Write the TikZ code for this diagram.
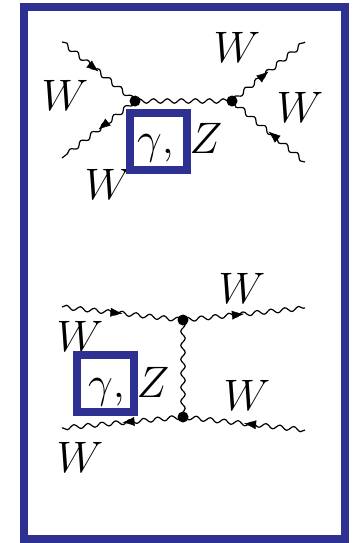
\documentclass[tikz,border=0pt]{standalone}
\usepackage{graphicx}
\usetikzlibrary{decorations.pathmorphing,decorations.markings,arrows.meta}
\definecolor{boxblue}{RGB}{46,49,146}
\newcommand\lbl[1]{\scalebox{1.77}{$#1$}}
\tikzset{
  photon/.style={decorate, decoration={snake, segment length=14pt, amplitude=2.2pt}, line width=1.2pt},
  midarrow/.style={postaction={decorate, decoration={markings, mark=at position 0.5 with {\arrow{Latex[length=12pt,width=9pt]}}}}},
  vdot/.style={circle, fill=black, inner sep=0pt, minimum size=11pt},
  lab/.style={font=\fontsize{24.88}{30}\selectfont, inner sep=0pt},
  hl/.style={draw=boxblue, line width=8pt, minimum width=57pt, minimum height=57pt, inner sep=0pt},
}
\begin{document}
\begin{tikzpicture}[x=1pt, y=-1pt]
\useasboundingbox (0,0) rectangle (358,543);
\draw[boxblue, line width=8pt] (23.5,7) rectangle (345,539);
% ---- top diagram (s-channel) ----
\coordinate (v1) at (135,101);
\coordinate (v2) at (232,101);
\coordinate (e1) at (62,42);
\coordinate (e2) at (62,158);
\coordinate (e3) at (305,42);
\coordinate (e4) at (305,162);
\draw[photon] (e1) -- (v1);
\draw[photon] (v1) -- (e2);
\draw[photon] (v2) -- (e3);
\draw[photon] (e4) -- (v2);
\draw[photon] (v1) -- (v2);
\path[midarrow] (e1) -- (v1);
\path[midarrow] (v1) -- (e2);
\path[midarrow] (v2) -- (e3);
\path[midarrow] (e4) -- (v2);
\node[vdot] (d1) at (v1) {};
\node[vdot] (d2) at (v2) {};
\node[lab] (w1) at (65,95) {\lbl{W}};
\node[lab] (w2) at (108,184) {\lbl{W}};
\node[lab] (w3) at (237,47) {\lbl{W}};
\node[lab] (w4) at (300,107) {\lbl{W}};
\node[hl] (b1) at (158,141.5) {};
\node[lab, anchor=base] (g1) at (155.5,153) {\lbl{\gamma,}};
\node[lab, anchor=base] (z1) at (206,153) {\lbl{Z}};
% ---- bottom diagram (t-channel) ----
\coordinate (v3) at (183,320);
\coordinate (v4) at (183,417);
\coordinate (e5) at (62,307);
\coordinate (e6) at (305,308);
\coordinate (e7) at (62,428);
\coordinate (e8) at (305,430);
\draw[photon] (e5) -- (v3);
\draw[photon] (v3) -- (e6);
\draw[photon] (v4) -- (e7);
\draw[photon] (e8) -- (v4);
\draw[photon] (v3) -- (v4);
\path[midarrow] (e5) -- (v3);
\path[midarrow] (v3) -- (e6);
\path[midarrow] (v4) -- (e7);
\path[midarrow] (e8) -- (v4);
\node[vdot] (d3) at (v3) {};
\node[vdot] (d4) at (v4) {};
\node[lab] (w5) at (80,336) {\lbl{W}};
\node[lab] (w6) at (80,457) {\lbl{W}};
\node[lab] (w7) at (242,288) {\lbl{W}};
\node[lab] (w8) at (247,395) {\lbl{W}};
\node[hl] (b2) at (105,383) {};
\node[lab, anchor=base] (g2) at (106.5,397) {\lbl{\gamma,}};
\node[lab, anchor=base] (z2) at (153,397) {\lbl{Z}};
\end{tikzpicture}
\end{document}
